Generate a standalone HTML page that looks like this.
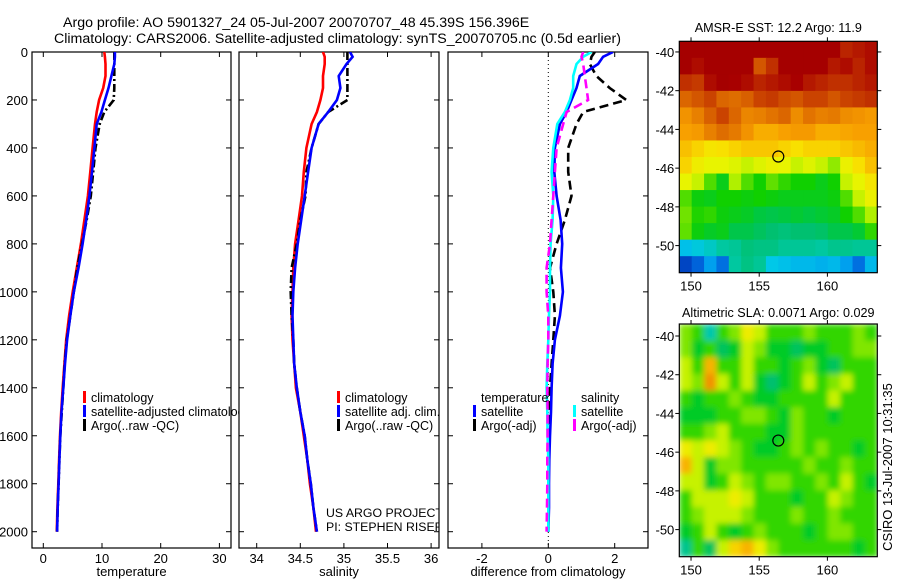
<!DOCTYPE html>
<html><head><meta charset="utf-8"><style>
html,body{margin:0;padding:0;background:#fff;width:900px;height:580px;overflow:hidden}
svg{display:block;font-family:"Liberation Sans",sans-serif}
</style></head><body>
<svg id="fig" width="900" height="580" xmlns="http://www.w3.org/2000/svg">
<defs>
<clipPath id="c1"><rect x="32" y="52" width="199" height="496"/></clipPath>
<clipPath id="c1t"><rect x="32" y="52" width="207" height="496"/></clipPath>
<clipPath id="c2"><rect x="239" y="52" width="200" height="496"/></clipPath>
<clipPath id="c3"><rect x="448" y="52" width="200" height="496"/></clipPath>
<clipPath id="cm1"><rect x="679" y="41" width="198" height="232"/></clipPath>
<clipPath id="cm2"><rect x="679" y="324" width="198" height="233"/></clipPath>
<filter id="blur" x="0" y="0" width="1" height="1"><feGaussianBlur stdDeviation="3" edgeMode="duplicate"/></filter>
</defs>
<text x="63" y="27" font-size="14.2">Argo profile: AO 5901327_24 05-Jul-2007 20070707_48 45.39S 156.396E</text>
<text x="54" y="43" font-size="14.2">Climatology: CARS2006. Satellite-adjusted climatology: synTS_20070705.nc (0.5d earlier)</text>
<g id="root"></g>
</svg>
<script>
// ---- profile data ----
const depths=[0,20,50,100,150,200,250,300,400,500,600,700,800,900,1000,1100,1200,1300,1400,1500,1600,1700,1800,1900,2000];
const tempClim=[10.4,10.5,10.6,10.6,10.2,9.5,9.1,8.8,8.4,8.0,7.6,7.0,6.4,5.7,5.0,4.4,3.9,3.6,3.3,3.05,2.85,2.7,2.55,2.4,2.3];
const tempSat=[12.2,12.2,12.1,11.6,11.1,10.5,9.9,9.1,8.7,8.3,7.85,7.3,6.7,6.0,5.2,4.6,4.05,3.7,3.4,3.1,2.9,2.75,2.6,2.45,2.35];
const tempArgo=[12.1,12.1,12.1,12.1,12.1,12.0,10.4,9.6,8.9,8.5,8.1,7.4,6.6,5.8,5.2,4.6,4.0,3.65,3.4,3.15,2.9,2.75,2.6,2.45,2.35];
const salClim=[34.76,34.78,34.78,34.76,34.76,34.73,34.69,34.63,34.57,34.54,34.52,34.48,34.44,34.42,34.41,34.40,34.41,34.43,34.45,34.50,34.54,34.58,34.61,34.65,34.68];
const salSat=[35.07,35.10,35.03,34.94,34.96,34.92,34.82,34.71,34.63,34.59,34.55,34.51,34.47,34.44,34.42,34.41,34.42,34.43,34.46,34.50,34.55,34.58,34.62,34.65,34.69];
const salArgo=[35.04,35.04,35.04,35.04,35.04,35.04,34.82,34.71,34.63,34.57,34.56,34.50,34.46,34.40,34.39,34.40,34.42,34.43,34.46,34.50,34.55,34.58,34.62,34.65,34.69];
const dTempSat=[1.95,1.65,1.5,0.95,0.85,0.7,0.55,0.35,0.2,0.18,0.25,0.37,0.42,0.38,0.44,0.35,0.2,0.13,0.1,0.08,0.05,0.03,0.02,0.02,0.0];
const dTempArgo=[1.4,1.3,1.25,1.45,1.85,2.35,1.05,0.85,0.6,0.6,0.7,0.5,0.25,0.05,0.15,0.2,0.15,0.1,0.05,0.03,0.02,0.01,0,0,0];
const dSalSat=[1.3,1.05,0.85,0.75,0.75,0.65,0.5,0.27,0.15,0.1,0.15,0.13,0.07,0.05,0.05,0.02,0,-0.03,-0.05,-0.03,-0.02,0,0,0,0];
const dSalArgo=[1.05,1.0,1.05,1.1,1.15,1.2,0.55,0.45,0.25,0.2,0.15,0.1,0.05,-0.05,-0.05,0,0,-0.02,-0.03,-0.02,-0.02,-0.03,-0.03,-0.04,-0.05];
const depthTicks=[0,200,400,600,800,1000,1200,1400,1600,1800,2000];
const tempTicks=[0,10,20,30];
const salTicks=[34,34.5,35,35.5,36];
const salTickLabels=["34","34.5","35","35.5","36"];
const diffTicks=[-2,0,2];
const lonTicks=[150,155,160];
const latTicks=[-40,-42,-44,-46,-48,-50];
// ---- map data (values on 0-10 colour scale) ----
const sstGrid=[
[9.8,9.8,9.8,9.8,9.8,9.8,9.8,9.8,9.8,9.8,9.8,9.8,9.8,9.4,9.5,9.6],
[9.8,9.6,9.8,9.8,9.8,9.8,8.9,9.3,9.8,9.8,9.8,9.8,9.5,9.6,9.4,9.6],
[9.3,9.2,9.6,9.8,9.7,9.6,9.4,9.5,9.6,9.7,9.5,9.4,9.3,9.3,9.4,9.5],
[8.7,8.9,9.1,8.7,8.6,8.8,9.1,9.2,9.0,8.9,9.1,9.1,8.9,9.1,9.2,9.3],
[8.0,8.3,8.8,9.1,8.7,8.2,8.3,8.5,8.7,8.1,8.5,8.3,8.4,8.1,8.0,7.9],
[7.8,7.9,8.3,8.6,8.4,8.0,7.6,7.6,7.8,7.9,7.9,7.6,7.6,7.7,7.8,7.8],
[7.3,7.0,6.7,6.8,7.0,7.2,7.2,7.2,7.0,6.8,7.0,7.0,7.0,7.2,7.4,7.6],
[7.0,6.5,6.3,6.3,6.2,6.0,6.2,6.4,6.3,6.0,6.2,6.0,5.6,6.4,6.8,7.3],
[6.3,6.0,5.2,4.6,5.8,5.2,4.8,5.3,5.0,4.8,4.8,4.6,4.8,6.0,6.3,6.7],
[5.2,4.7,4.6,4.8,4.8,4.7,4.8,4.7,4.6,4.6,4.6,4.6,4.7,5.2,6.0,6.4],
[5.4,4.9,5.0,4.7,4.6,4.5,4.3,4.2,4.3,4.4,4.3,4.4,4.5,4.8,5.2,5.8],
[5.3,4.7,4.5,4.6,4.2,4.2,4.0,3.8,3.7,3.8,3.8,3.9,4.2,4.2,4.4,5.0],
[2.6,2.8,3.0,3.3,3.4,3.7,3.6,3.6,3.4,3.4,3.4,3.3,3.5,3.5,3.4,3.4],
[0.8,1.3,2.2,1.5,3.3,3.6,3.4,2.7,2.6,2.5,2.5,2.4,2.5,2.2,1.5,2.5]];
const slaGrid=[
[5.5,5,3.2,5,5.5,6.5,6,5,5,5,5.5,5,5,5,5.5,5],
[5.5,4.5,5,4,4.5,6,5.5,4.5,4.5,4,4.5,4.5,5,5,5.5,5.5],
[6,5,7.5,5,5,6,5,5,4.5,5,5.5,4.5,4,5,5,5],
[6,5.5,8,6,5,6,4.5,3.8,4.5,5,6,5,5.5,6,5,5],
[5,4.5,5,5,5.5,5,4.5,4.5,5,5,5,5,6,5,5,5],
[4.5,4.5,4.5,5,5,5.5,5.5,5,4.5,5.5,5,5,4.5,5,5,5],
[5,5,5.5,6,5,5,5,4.5,4.5,5.5,5,5,5,5,5,5],
[6.5,6,6.5,6,5.5,5,4.5,4.5,5,5.5,5,5.5,5,5,4.5,5],
[7.5,6,4.5,5.5,5.5,5,5,5,5,5,5.5,5,5,5.5,5,5],
[6,6,4.5,5,6,5.5,5,5.5,5.5,5,5,5.5,5,6,5,4.5],
[5,6,6,6,6.5,6,5,5,5,4.5,5,5,6,5.5,5,5],
[5,5.5,6,6,6,5.5,5,5,5,5.5,5,5,5.5,5,5,5],
[4.5,5,6,5,4.5,5,5.5,5,5,5,4.5,5,5.5,5.5,5,5],
[3.5,5,4,6,7,7.5,6.5,5.5,5,5,5,5,5,5,4.5,5]];
const argoLon=156.4, argoLat=-45.4;

const NS="http://www.w3.org/2000/svg";
const root=document.getElementById('root');
function mk(tag,attrs,parent){const e=document.createElementNS(NS,tag);for(const k in attrs)e.setAttribute(k,attrs[k]);(parent||root).appendChild(e);return e;}
function txt(x,y,s,size,anchor,parent){const t=mk('text',{x:x,y:y,'font-size':size,'text-anchor':anchor||'start'},parent);t.textContent=s;return t;}

const Y0=52,Y1=548;
const yD=d=>52+d*0.23985;
const panels=[
 {x0:32,x1:231,sx:v=>43.3+v*5.87,clip:'c1',ticks:tempTicks,labels:tempTicks.map(String),label:'temperature',name:'temperature'},
 {x0:239,x1:439,sx:v=>256.7+(v-34)*87.2,clip:'c2',ticks:salTicks,labels:salTickLabels,label:'salinity',name:'salinity'},
 {x0:448,x1:648,sx:v=>548.3+v*33.2,clip:'c3',ticks:diffTicks,labels:diffTicks.map(String),label:'difference from climatology',name:'difference'}
];
panels.forEach((p,i)=>{
 const g=mk('g',{});
 
 
 const fr=mk('rect',{x:p.x0,y:Y0,width:p.x1-p.x0,height:Y1-Y0,fill:'none',stroke:'#000','stroke-width':1.2},g);
 
 
 depthTicks.forEach(d=>{
  const y=yD(d);
  mk('line',{x1:p.x0,x2:p.x0+5,y1:y,y2:y,stroke:'#000'},g);
  mk('line',{x1:p.x1-5,x2:p.x1,y1:y,y2:y,stroke:'#000'},g);
  if(i===0){const t=txt(28,y+5,String(d),13,'end',g);}
 });
 p.ticks.forEach((v,k)=>{
  const x=p.sx(v);
  mk('line',{x1:x,x2:x,y1:Y0,y2:Y0+5,stroke:'#000'},g);
  mk('line',{x1:x,x2:x,y1:Y1-5,y2:Y1,stroke:'#000'},g);
  const t=txt(x,563,p.labels[k],13,'middle',g);
  
  
 });
 const xl=txt((p.x0+p.x1)/2,576,p.label,13,'middle',g);
 
 
});
function series(p,vals,color,dash,name){
 const pts=vals.map((v,k)=>p.sx(v).toFixed(1)+','+yD(depths[k]).toFixed(1)).join(' ');
 const l=mk('polyline',{points:pts,fill:'none',stroke:color,'stroke-width':2.6,'stroke-dasharray':dash||'none','clip-path':'url(#'+p.clip+')'});
 
 
}
// zero line
const zl=mk('line',{x1:panels[2].sx(0),x2:panels[2].sx(0),y1:Y0,y2:Y1,stroke:'#000','stroke-width':1,'stroke-dasharray':'1,3'});


series(panels[0],tempClim,'#ff0000',null,'temp-climatology-line');
series(panels[0],tempArgo,'#000',"8,3,2,3",'temp-argo-line');
series(panels[0],tempSat,'#0000ff',null,'temp-satellite-line');
series(panels[1],salClim,'#ff0000',null,'sal-climatology-line');
series(panels[1],salArgo,'#000',"8,3,2,3",'sal-argo-line');
series(panels[1],salSat,'#0000ff',null,'sal-satellite-line');
series(panels[2],dTempArgo,'#000',"9,5",'diff-temp-argo-line');
series(panels[2],dTempSat,'#0000ff',null,'diff-temp-satellite-line');
series(panels[2],dSalSat,'#00ffff',null,'diff-sal-satellite-line');
series(panels[2],dSalArgo,'#ff00ff',"9,5",'diff-sal-argo-line');

function legend(x,y,color,label,clip,name){
 const g=mk('g',clip?{'clip-path':'url(#'+clip+')'}:{});
 
 
 if(color)mk('rect',{x:x,y:y-11,width:3,height:12,fill:color},g);
 txt(x+8,y,label,12.5,'start',g);
}
legend(83,402,'#ff0000','climatology','c1t','legend-climatology');
legend(83,416,'#0000ff','satellite-adjusted climatology','c1t','legend-satellite-adjusted');
legend(83,430,'#000000','Argo(..raw -QC)','c1t','legend-argo');
legend(337,402,'#ff0000','climatology','c2','legend-sal-climatology');
legend(337,416,'#0000ff','satellite adj. clim.','c2','legend-sal-satellite');
legend(337,430,'#000000','Argo(..raw -QC)','c2','legend-sal-argo');
const c2g=mk('g',{'clip-path':'url(#c2)'});


txt(326,517,'US ARGO PROJECT',12.3,'start',c2g);
txt(326,531,'PI: STEPHEN RISER',12.3,'start',c2g);
legend(473,402,null,'temperature',null,'legend-temperature-heading');
legend(473,416,'#0000ff','satellite',null,'legend-diff-temp-satellite');
legend(473,430,'#000000','Argo(-adj)',null,'legend-diff-temp-argo');
legend(573,402,null,'salinity',null,'legend-salinity-heading');
legend(573,416,'#00ffff','satellite',null,'legend-diff-sal-satellite');
legend(573,430,'#ff00ff','Argo(-adj)',null,'legend-diff-sal-argo');

// ---- maps ----
const cstops=[[0,[0,24,144]],[1,[0,80,208]],[2,[0,144,240]],[2.7,[0,200,232]],[3.3,[0,200,160]],[3.8,[0,192,112]],[4.3,[0,200,64]],[4.8,[16,208,0]],[5.3,[96,224,0]],[5.8,[176,240,0]],[6.3,[232,244,0]],[6.8,[248,224,0]],[7.3,[248,192,0]],[7.8,[248,160,0]],[8.3,[232,128,0]],[8.8,[216,96,0]],[9.3,[192,48,0]],[9.7,[168,0,0]],[10,[160,0,0]]];
function cmap(v){
 for(let i=1;i<cstops.length;i++){if(v<=cstops[i][0]){const a=cstops[i-1],b=cstops[i],t=(v-a[0])/(b[0]-a[0]);
  return 'rgb('+a[1].map((c,k)=>Math.round(c+(b[1][k]-c)*t)).join(',')+')';}}
 return 'rgb(160,0,0)';
}
function drawMap(o){
 const lonX=l=>o.x0+(l-o.lon0)*(o.x1-o.x0)/(o.lon1-o.lon0);
 const latY=l=>o.y0+(o.lat0-l)*(o.y1-o.y0)/(o.lat0-o.lat1);
 const g=mk('g',{});
 
 
 const cg=mk('g',{'clip-path':'url(#'+o.clip+')'},g);
 const inner=mk('g',o.blur?{filter:'url(#blur)'}:{},cg);
 const rows=o.grid.length,cols=o.grid[0].length;
 const cw=(o.x1-o.x0)/cols,ch=(o.y1-o.y0)/rows;
 o.grid.forEach((r,ri)=>r.forEach((v,ci)=>{
  const c=mk('rect',{x:o.x0+ci*cw,y:o.y0+ri*ch,width:cw+0.6,height:ch+0.6,fill:cmap(v)},inner);
  
  
 }));
 const fr=mk('rect',{x:o.x0,y:o.y0,width:o.x1-o.x0,height:o.y1-o.y0,fill:'none',stroke:'#000','stroke-width':1.2},g);
 
 
 lonTicks.forEach(l=>{const x=lonX(l);
  mk('line',{x1:x,x2:x,y1:o.y0-4,y2:o.y0,stroke:'#000'},g);
  mk('line',{x1:x,x2:x,y1:o.y1,y2:o.y1+4,stroke:'#000'},g);
  const t=txt(x,o.y1+18,String(l),13,'middle',g);});
 latTicks.forEach(l=>{const y=latY(l);
  mk('line',{x1:o.x0-4,x2:o.x0,y1:y,y2:y,stroke:'#000'},g);
  mk('line',{x1:o.x1,x2:o.x1+4,y1:y,y2:y,stroke:'#000'},g);
  const t=txt(o.x0-5,y+5,String(l),13,'end',g);});
 const m=mk('circle',{cx:lonX(argoLon),cy:latY(argoLat),r:5.5,fill:'none',stroke:'#000','stroke-width':1.2},g);
 
 
 const t=txt((o.x0+o.x1)/2,o.titleY,o.title,12.6,'middle',g);
 
 
}
drawMap({name:'sst-map',grid:sstGrid,clip:'cm1',x0:679.3,x1:877.3,y0:41.3,y1:272.7,lon0:149.14,lon1:163.66,lat0:-39.45,lat1:-51.4,title:'AMSR-E SST: 12.2 Argo: 11.9',titleY:32,blur:false});
drawMap({name:'sla-map',grid:slaGrid,clip:'cm2',x0:679.3,x1:877.3,y0:324,y1:556.7,lon0:149.14,lon1:163.66,lat0:-39.38,lat1:-51.4,title:'Altimetric SLA: 0.0071 Argo: 0.029',titleY:317,blur:true});
const ts=txt(0,0,'CSIRO 13-Jul-2007 10:31:35',13,'middle');
ts.setAttribute('transform','translate(892,467) rotate(-90)');


</script>
</body></html>
